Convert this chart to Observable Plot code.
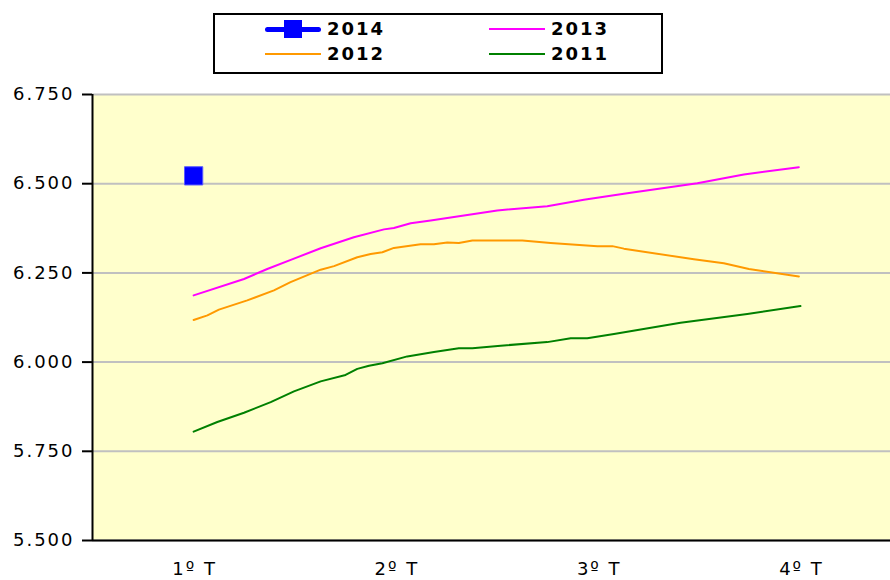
<!DOCTYPE html>
<html>
<head>
<meta charset="utf-8">
<script src="https://cdn.jsdelivr.net/npm/d3@7"></script>
<script src="https://cdn.jsdelivr.net/npm/@observablehq/plot@0.6"></script>
<style>
  body { margin: 0; background: #fff; font-family: "DejaVu Sans", Verdana, sans-serif; }
  #wrap { position: relative; width: 890px; height: 580px; }
  #legend { position: absolute; left: 213px; top: 13px; width: 446px; height: 57px; border: 2px solid #000; background: #fff; }
  .item { position: absolute; display: flex; align-items: center; font-weight: bold; font-size: 18px; letter-spacing: 2px; color: #000; }
  .sw { position: relative; width: 56px; height: 20px; margin-right: 6px; }
  .sw .ln { position: absolute; left: 0; right: 0; top: 9px; height: 2px; }
  .sw .thick { top: 8px; height: 5px; border-radius: 3px; }
  .sw .sq { position: absolute; left: 19px; top: 1px; width: 18px; height: 18px; background: #0000ff; }
  #chart svg text { letter-spacing: 2px; }
</style>
</head>
<body>
<div id="wrap">
  <div id="chart"></div>
  <div id="legend"></div>
</div>
<script>
// Category labels (quarters)
const quarterPos = [1, 2, 3, 4];
const quarterLabels = ["1º T", "2º T", "3º T", "4º T"];
const yTicks = [5500, 5750, 6000, 6250, 6500, 6750];

// Series: position along the quarter axis and value
const q2014 = [1];
const v2014 = [6522];

const q2013 = [1.0, 1.249, 1.364, 1.496, 1.628, 1.792, 1.941, 1.99, 2.073, 2.172, 2.254, 2.419, 2.501, 2.748, 2.929, 3.127, 3.49, 3.72, 3.992];
const v2013 = [6187, 6233, 6261, 6290, 6319, 6350, 6372, 6376, 6389, 6397, 6404, 6418, 6425, 6437, 6455, 6472, 6501, 6526, 6546];

const q2012 = [1.0, 1.068, 1.125, 1.265, 1.397, 1.479, 1.628, 1.694, 1.809, 1.875, 1.933, 1.99, 2.122, 2.188, 2.254, 2.311, 2.378, 2.625, 2.765, 2.996, 3.07, 3.127, 3.473, 3.621, 3.745, 3.992];
const v2012 = [6118, 6131, 6147, 6173, 6201, 6224, 6259, 6269, 6294, 6303, 6308, 6320, 6330, 6330, 6335, 6334, 6341, 6341, 6334, 6325, 6325, 6318, 6288, 6277, 6261, 6240];

const q2011 = [1.0, 1.117, 1.249, 1.381, 1.496, 1.628, 1.751, 1.809, 1.867, 1.933, 2.056, 2.188, 2.311, 2.378, 2.518, 2.748, 2.864, 2.946, 3.078, 3.407, 3.737, 4.0];
const v2011 = [5805, 5832, 5858, 5888, 5918, 5946, 5964, 5981, 5990, 5997, 6016, 6028, 6039, 6039, 6046, 6056, 6067, 6067, 6079, 6110, 6135, 6157];

const seriesNames = ["2014", "2013", "2012", "2011"];
const seriesColors = ["#0000ff", "#ff00ff", "#ff9900", "#008000"];

const toRows = (qs, vs, name) => qs.map((q, i) => ({q, v: vs[i], s: name}));
const d2014 = toRows(q2014, v2014, "2014");
const d2013 = toRows(q2013, v2013, "2013");
const d2012 = toRows(q2012, v2012, "2012");
const d2011 = toRows(q2011, v2011, "2011");

const es = d3.formatLocale({decimal: ",", thousands: ".", grouping: [3], currency: ["", " €"]});
const fmt = es.format(",.0f");

const chart = Plot.plot({
  width: 890,
  height: 580,
  marginTop: 94,
  marginBottom: 40,
  marginLeft: 92,
  marginRight: 0,
  style: {fontFamily: "DejaVu Sans, Verdana, sans-serif", fontSize: "18px", background: "transparent", overflow: "visible"},
  x: {domain: [0.5, 4.445], axis: null, label: null},
  y: {domain: [5500, 6750], axis: null, label: null},
  marks: [
    Plot.frame({fill: "#ffffcc", stroke: null}),
    Plot.ruleY(yTicks, {stroke: "#c0c0c0", strokeWidth: 2}),
    Plot.axisY(yTicks, {label: null, tickFormat: fmt, tickSize: 10, tickPadding: 8, stroke: "#000", strokeWidth: 2, fill: "#000", fontSize: 18}),
    Plot.axisX(quarterPos, {label: null, tickFormat: (d, i) => quarterLabels[i], tickSize: 0, tickPadding: 22, fill: "#000", fontSize: 18, dx: 1}),
    Plot.ruleX([0.5], {stroke: "#000", strokeWidth: 2}),
    Plot.ruleY([5500], {stroke: "#000", strokeWidth: 2}),
    Plot.line(d2011, {x: "q", y: "v", stroke: seriesColors[3], strokeWidth: 2}),
    Plot.line(d2012, {x: "q", y: "v", stroke: seriesColors[2], strokeWidth: 2}),
    Plot.line(d2013, {x: "q", y: "v", stroke: seriesColors[1], strokeWidth: 2}),
    Plot.dot(d2014, {x: "q", y: "v", symbol: "square", r: 10.3, fill: seriesColors[0], stroke: "#5a5aff", strokeWidth: 1})
  ]
});
document.getElementById("chart").appendChild(chart);

// Legend
const legend = document.getElementById("legend");
const pos = [
  {left: 50, top: 3},
  {left: 274, top: 3},
  {left: 50, top: 28},
  {left: 274, top: 28}
];
seriesNames.forEach((name, i) => {
  const item = document.createElement("div");
  item.className = "item";
  item.style.left = pos[i].left + "px";
  item.style.top = pos[i].top + "px";
  const sw = document.createElement("div");
  sw.className = "sw";
  const ln = document.createElement("div");
  ln.className = "ln" + (i === 0 ? " thick" : "");
  ln.style.background = seriesColors[i];
  sw.appendChild(ln);
  if (i === 0) {
    const sq = document.createElement("div");
    sq.className = "sq";
    sw.appendChild(sq);
  }
  item.appendChild(sw);
  const t = document.createElement("span");
  t.textContent = name;
  item.appendChild(t);
  legend.appendChild(item);
});
</script>
</body>
</html>
